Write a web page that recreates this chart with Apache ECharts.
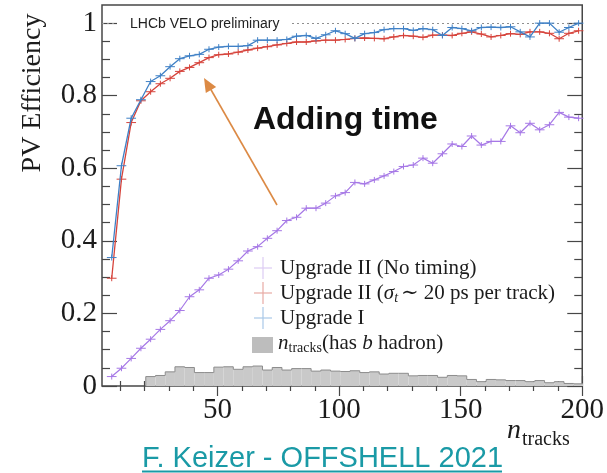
<!DOCTYPE html>
<html>
<head>
<meta charset="utf-8">
<script src="https://cdn.jsdelivr.net/npm/echarts@6/dist/echarts.min.js"></script>
<style>
  html, body { margin: 0; padding: 0; background: #ffffff; }
  #chart { width: 607px; height: 473px; }
</style>
</head>
<body>
<div id="chart"></div>
<script>
// Bin centres in n_tracks (bins are 4 tracks wide)
const binCenters = [6.5, 10.5, 14.5, 18.5, 22.5, 26.5, 30.5, 34.5, 38.5, 42.5, 46.5, 50.5,
  54.5, 58.5, 62.5, 66.5, 70.5, 74.5, 78.5, 82.5, 86.5, 90.5, 94.5, 98.5, 102.5, 106.5,
  110.5, 114.5, 118.5, 122.5, 126.5, 130.5, 134.5, 138.5, 142.5, 146.5, 150.5, 154.5,
  158.5, 162.5, 166.5, 170.5, 174.5, 178.5, 182.5, 186.5, 190.5, 194.5, 198.5];
const binWidth = 4;

// PV efficiency, Upgrade II without timing
const effNoTiming = [0.026, 0.049, 0.076, 0.104, 0.129, 0.156, 0.180, 0.208, 0.246, 0.265,
  0.297, 0.306, 0.322, 0.345, 0.372, 0.384, 0.407, 0.428, 0.456, 0.465, 0.490, 0.490,
  0.504, 0.524, 0.533, 0.561, 0.557, 0.568, 0.579, 0.591, 0.605, 0.609, 0.628, 0.614,
  0.640, 0.667, 0.660, 0.689, 0.664, 0.674, 0.674, 0.717, 0.698, 0.724, 0.706, 0.720,
  0.754, 0.741, 0.738];

// PV efficiency, Upgrade II with 20 ps per-track timing
const effTiming = [0.297, 0.570, 0.726, 0.786, 0.811, 0.833, 0.848, 0.867, 0.878, 0.891,
  0.905, 0.913, 0.915, 0.920, 0.926, 0.931, 0.935, 0.940, 0.944, 0.948, 0.948, 0.951,
  0.953, 0.953, 0.955, 0.958, 0.959, 0.958, 0.957, 0.962, 0.966, 0.964, 0.961, 0.967,
  0.967, 0.966, 0.972, 0.976, 0.970, 0.962, 0.966, 0.971, 0.969, 0.976, 0.976, 0.972,
  0.957, 0.972, 0.979];

// PV efficiency, Upgrade I
const effUpgradeI = [0.354, 0.607, 0.738, 0.789, 0.839, 0.855, 0.880, 0.902, 0.910, 0.914,
  0.928, 0.934, 0.936, 0.936, 0.938, 0.953, 0.953, 0.953, 0.955, 0.964, 0.966, 0.958,
  0.968, 0.979, 0.971, 0.958, 0.971, 0.974, 0.982, 0.985, 0.985, 0.980, 0.985, 0.982,
  0.966, 0.988, 0.985, 0.979, 0.988, 0.989, 0.988, 0.990, 0.976, 0.962, 1.000, 1.000,
  0.975, 0.988, 1.000];

// n_tracks distribution for events with a b hadron (arbitrary normalisation)
const histBHadron = [0, 0, 0, 0, 0.026, 0.029, 0.039, 0.053, 0.051, 0.037, 0.037, 0.052,
  0.053, 0.046, 0.053, 0.055, 0.044, 0.051, 0.044, 0.048, 0.048, 0.041, 0.044, 0.041,
  0.040, 0.042, 0.037, 0.039, 0.033, 0.035, 0.035, 0.028, 0.029, 0.029, 0.024, 0.029,
  0.028, 0.018, 0.012, 0.018, 0.017, 0.015, 0.015, 0.012, 0.015, 0.009, 0.012, 0.007,
  0.006];

// Axis ticks
const xMajorTicks = [50, 100, 150, 200];
const xMinorTicks = [10, 20, 30, 40, 60, 70, 80, 90, 110, 120, 130, 140, 160, 170, 180, 190];
const yMajorTicks = [0, 0.2, 0.4, 0.6, 0.8, 1];
const yMinorTicks = [0.05, 0.1, 0.15, 0.25, 0.3, 0.35, 0.45, 0.5, 0.55, 0.65, 0.7, 0.75,
  0.85, 0.9, 0.95];
const xMin = 2.5, xMax = 200, yMin = 0, yMax = 1.05;
const referenceLevel = 1;

const SERIF = "'Liberation Serif', 'DejaVu Serif', serif";
const SANS = "'Liberation Sans', Arial, sans-serif";
const FRAME = '#474747';
const C_PURPLE = '#a678e6';
const C_RED = '#d6433b';
const C_BLUE = '#3f80c6';

const chart = echarts.init(document.getElementById('chart'), null, { renderer: 'canvas' });

function pairs(values) {
  return binCenters.map((x, i) => [x, values[i]]);
}

// Point markers: horizontal bar spans the bin, short vertical bar
function crossRenderer(color) {
  return function (params, api) {
    const x = api.value(0), y = api.value(1);
    const a = api.coord([x - binWidth / 2, y]);
    const b = api.coord([x + binWidth / 2, y]);
    const c = api.coord([x, y]);
    return {
      type: 'group',
      children: [
        { type: 'line', shape: { x1: a[0], y1: a[1], x2: b[0], y2: b[1] }, style: { stroke: color, lineWidth: 1 } },
        { type: 'line', shape: { x1: c[0], y1: c[1] - 3, x2: c[0], y2: c[1] + 3 }, style: { stroke: color, lineWidth: 1 } }
      ]
    };
  };
}

// Filled step histogram with outline
function histRenderer(params, api) {
  const i = params.dataIndex;
  const x = api.value(0), h = api.value(1);
  const prev = i > 0 ? histBHadron[i - 1] : 0;
  const tl = api.coord([x - binWidth / 2, h]);
  const br = api.coord([x + binWidth / 2, 0]);
  const pl = api.coord([x - binWidth / 2, prev]);
  const children = [];
  if (h > 0) {
    children.push({ type: 'rect', shape: { x: tl[0], y: tl[1], width: br[0] - tl[0], height: br[1] - tl[1] },
      style: { fill: '#c9c9c9' } });
    children.push({ type: 'line', shape: { x1: tl[0], y1: tl[1], x2: br[0], y2: tl[1] },
      style: { stroke: '#8c8c8c', lineWidth: 1 } });
  }
  if (h > 0 || prev > 0) {
    children.push({ type: 'line', shape: { x1: tl[0], y1: pl[1], x2: tl[0], y2: tl[1] },
      style: { stroke: '#8c8c8c', lineWidth: 1 } });
  }
  return { type: 'group', children: children };
}

function xAxisDef(position, ticks, length, withLabels) {
  return {
    type: 'value', min: xMin, max: xMax, position: position,
    axisLine: { show: false }, splitLine: { show: false },
    axisTick: { show: true, inside: true, length: length, customValues: ticks,
      lineStyle: { color: FRAME, width: 1.2 } },
    axisLabel: withLabels
      ? { show: true, customValues: ticks, margin: 10, fontSize: 29, fontFamily: SERIF, color: '#1c1c1c' }
      : { show: false }
  };
}

function yAxisDef(position, ticks, length, withLabels) {
  return {
    type: 'value', min: yMin, max: yMax, position: position,
    axisLine: { show: false }, splitLine: { show: false },
    axisTick: { show: true, inside: true, length: length, customValues: ticks,
      lineStyle: { color: FRAME, width: 1.2 } },
    axisLabel: withLabels
      ? { show: true, customValues: ticks, margin: 5, fontSize: 29, fontFamily: SERIF, color: '#1c1c1c' }
      : { show: false }
  };
}

// Text runs placed side by side (for italics and subscripts)
const measureCtx = document.createElement('canvas').getContext('2d');
function textRuns(x, y, parts, color) {
  const out = [];
  let cx = x;
  parts.forEach(p => {
    const font = (p.italic ? 'italic ' : '') + (p.bold ? 'bold ' : '') + p.size + 'px ' + (p.family || SERIF);
    measureCtx.font = font;
    out.push({
      type: 'text', x: cx, y: y + (p.dy || 0), z: 100,
      style: { text: p.t, font: font, fill: color,
        align: 'left', verticalAlign: 'middle', textAlign: 'left', textVerticalAlign: 'middle' }
    });
    cx += measureCtx.measureText(p.t).width + (p.gap || 0);
  });
  return out;
}

function legendCross(cx, cy, color) {
  return [
    { type: 'line', z: 100, shape: { x1: cx - 9, y1: cy, x2: cx + 9, y2: cy }, style: { stroke: color, lineWidth: 1.2 } },
    { type: 'line', z: 100, shape: { x1: cx, y1: cy - 11, x2: cx, y2: cy + 11 }, style: { stroke: color, lineWidth: 1.2 } }
  ];
}

const LEG_FS = 21, SUB_FS = 14;
const legendX = 280;
const graphics = [].concat(
  // y-axis title
  [{ type: 'text', x: 33, y: 93, rotation: Math.PI / 2, z: 100,
    style: { text: 'PV Efficiency', font: '28px ' + SERIF, fill: '#1c1c1c',
      align: 'center', verticalAlign: 'middle', textAlign: 'center', textVerticalAlign: 'middle' } }],
  // x-axis title
  textRuns(507, 431, [{ t: 'n', size: 28, italic: true, gap: 1 }, { t: 'tracks', size: 20, dy: 9 }], '#1c1c1c'),
  // experiment label over the reference line
  [{ type: 'text', x: 117, y: 24, z: 100,
    style: { text: 'LHCb VELO preliminary', font: '14px ' + SANS, fill: '#222222',
      backgroundColor: '#ffffff', padding: [3, 12, 3, 13],
      align: 'left', verticalAlign: 'middle', textAlign: 'left', textVerticalAlign: 'middle' } }],
  // annotation
  [{ type: 'text', x: 253, y: 120, z: 100,
    style: { text: 'Adding time', font: 'bold 32px ' + SANS, fill: '#111111',
      align: 'left', verticalAlign: 'middle', textAlign: 'left', textVerticalAlign: 'middle' } }],
  [{ type: 'line', z: 100, shape: { x1: 277, y1: 205, x2: 210, y2: 88 },
    style: { stroke: '#dc8a45', lineWidth: 1.6 } },
   { type: 'polygon', z: 100, shape: { points: [[204, 78], [216.2, 87.1], [205.8, 93.1]] },
    style: { fill: '#dc8a45' } }],
  // legend
  legendCross(263, 268, '#dccbf3'),
  textRuns(legendX, 268, [{ t: 'Upgrade II (No timing)', size: LEG_FS }], '#1c1c1c'),
  legendCross(263, 293, '#e8aaa4'),
  textRuns(legendX, 293, [
    { t: 'Upgrade II (', size: LEG_FS },
    { t: 'σ', size: LEG_FS, italic: true },
    { t: 't', size: SUB_FS, italic: true, dy: 5, gap: 3 },
    { t: '∼ 20 ps per track)', size: LEG_FS }
  ], '#1c1c1c'),
  legendCross(263, 318, '#a9c8e8'),
  textRuns(legendX, 318, [{ t: 'Upgrade I', size: LEG_FS }], '#1c1c1c'),
  [{ type: 'rect', z: 100, shape: { x: 252, y: 337, width: 21, height: 16 }, style: { fill: '#bdbdbd' } }],
  textRuns(legendX - 2, 343, [
    { t: 'n', size: LEG_FS, italic: true },
    { t: 'tracks', size: SUB_FS, dy: 5 },
    { t: '(has ', size: LEG_FS },
    { t: 'b', size: LEG_FS, italic: true },
    { t: ' hadron)', size: LEG_FS }
  ], '#1c1c1c'),
  // source line
  [{ type: 'text', x: 142, y: 459, z: 100,
    style: { text: 'F. Keizer - OFFSHELL 2021', font: '29px ' + SANS, fill: '#1a9aa6',
      align: 'left', verticalAlign: 'middle', textAlign: 'left', textVerticalAlign: 'middle' } },
   { type: 'line', z: 100, shape: { x1: 142, y1: 471.5, x2: 502, y2: 471.5 },
    style: { stroke: '#1a9aa6', lineWidth: 2 } }]
);

const option = {
  animation: false,
  backgroundColor: '#ffffff',
  grid: { left: 102, right: 24, top: 5, bottom: 87, show: true,
    borderColor: FRAME, borderWidth: 1.5, backgroundColor: 'transparent' },
  xAxis: [
    xAxisDef('bottom', xMajorTicks, 10, true),
    xAxisDef('bottom', xMinorTicks, 5, false),
    xAxisDef('top', xMajorTicks, 10, false),
    xAxisDef('top', xMinorTicks, 5, false)
  ],
  yAxis: [
    yAxisDef('left', yMajorTicks, 15, true),
    yAxisDef('left', yMinorTicks, 8, false),
    yAxisDef('right', yMajorTicks, 15, false),
    yAxisDef('right', yMinorTicks, 8, false)
  ],
  series: [
    { name: 'n_tracks (has b hadron)', type: 'custom', renderItem: histRenderer,
      data: pairs(histBHadron), z: 1, clip: true },
    { name: 'reference', type: 'line', data: [], z: 2,
      markLine: { silent: true, symbol: 'none', label: { show: false },
        lineStyle: { color: '#8f8f8f', type: [2, 3], width: 1 },
        data: [{ yAxis: referenceLevel }] } },
    { name: 'Upgrade II (No timing)', type: 'line', data: pairs(effNoTiming), showSymbol: false,
      lineStyle: { color: C_PURPLE, width: 1.2 }, z: 3 },
    { type: 'custom', renderItem: crossRenderer(C_PURPLE), data: pairs(effNoTiming), z: 3 },
    { name: 'Upgrade II (timing)', type: 'line', data: pairs(effTiming), showSymbol: false,
      lineStyle: { color: C_RED, width: 1.3 }, z: 4 },
    { type: 'custom', renderItem: crossRenderer(C_RED), data: pairs(effTiming), z: 4 },
    { name: 'Upgrade I', type: 'line', data: pairs(effUpgradeI), showSymbol: false,
      lineStyle: { color: C_BLUE, width: 1.3 }, z: 5 },
    { type: 'custom', renderItem: crossRenderer(C_BLUE), data: pairs(effUpgradeI), z: 5 }
  ],
  graphic: { elements: graphics }
};

chart.setOption(option);
</script>
</body>
</html>
